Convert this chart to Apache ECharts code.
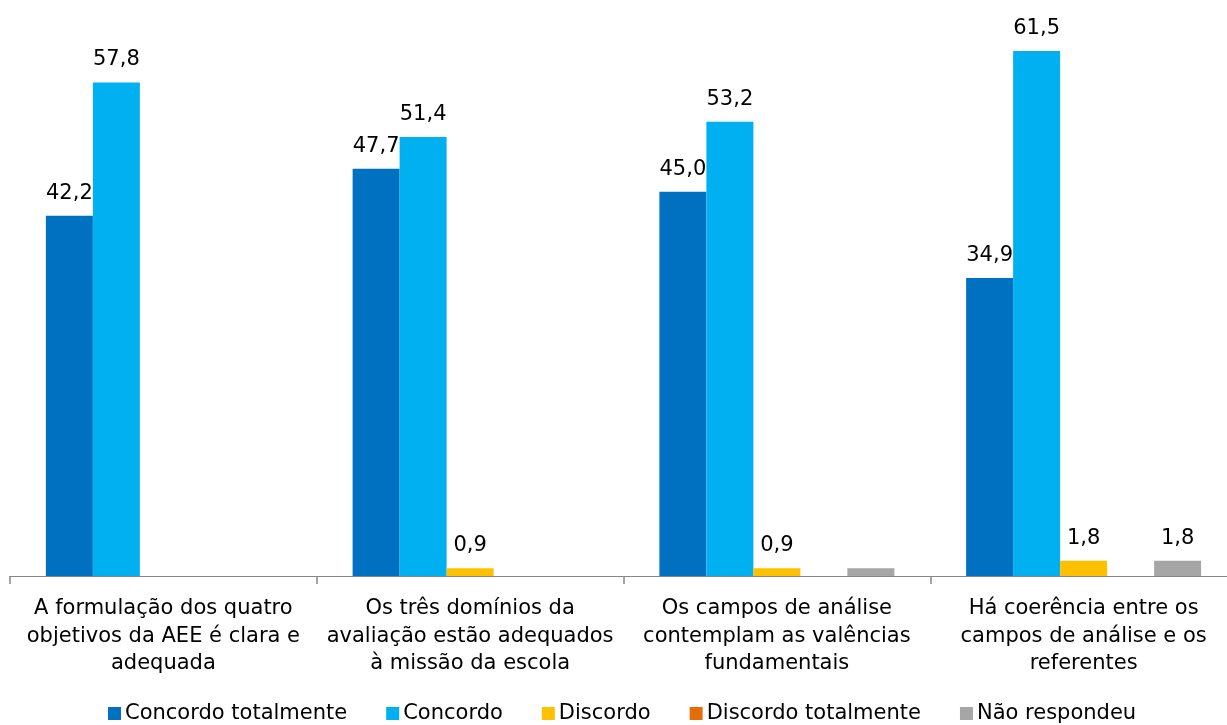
<!DOCTYPE html>
<html><head><meta charset="utf-8">
<script src="https://cdn.jsdelivr.net/npm/echarts@6/dist/echarts.min.js"></script>
<style>html,body{margin:0;padding:0;background:#fff;overflow:hidden}#c{width:1237px;height:725px}</style>
</head><body><div id="c"></div>
<script>
const categories = [
  "A formulação dos quatro\nobjetivos da AEE é clara e\nadequada",
  "Os três domínios da\navaliação estão adequados\nà missão da escola",
  "Os campos de análise\ncontemplam as valências\nfundamentais",
  "Há coerência entre os\ncampos de análise e os\nreferentes"
];
const seriesNames = ["Concordo totalmente","Concordo","Discordo","Discordo totalmente","Não respondeu"];
const concordoTotalmente = [42.2, 47.7, 45.0, 34.9];
const concordo = [57.8, 51.4, 53.2, 61.5];
const discordo = [0, 0.9, 0.9, 1.8];
const discordoTotalmente = [0, 0, 0, 0];
const naoRespondeu = [0, 0, 0.9, 1.8];
const labelShown = [
  [true, true, true, true],
  [true, true, true, true],
  [true, true, true, true],
  [true, true, true, true],
  [true, true, false, true]
];
const colors = ["#0070C0","#00B0F0","#FFC000","#E46C0A","#A6A6A6"];
const allValues = [concordoTotalmente, concordo, discordo, discordoTotalmente, naoRespondeu];
const FONT = "DejaVu Sans";

const chart = echarts.init(document.getElementById('c'));
chart.setOption({
  animation: false,
  color: colors,
  grid: {left: 10, right: 0, top: 21, bottom: 149, containLabel: false},
  xAxis: {
    type: 'category', data: categories,
    axisLine: {show: true, lineStyle: {color: '#868686', width: 1}},
    axisTick: {show: true, length: 8, lineStyle: {color: '#868686', width: 1.5}},
    axisLabel: {color: '#000', fontFamily: FONT, fontSize: 21, lineHeight: 27.5, margin: 19, interval: 0}
  },
  yAxis: {type: 'value', min: 0, max: 65, show: false, splitLine: {show: false}},
  legend: {
    top: 698, left: 103, itemWidth: 13, itemHeight: 13, itemGap: 39,
    icon: 'rect',
    textStyle: {color: '#000', fontFamily: FONT, fontSize: 21, padding: [0,0,0,-1]},
    data: seriesNames
  },
  series: allValues.map((vals, si) => ({
    name: seriesNames[si], type: 'bar', barWidth: 47, barGap: '0%',
    data: vals.map((v, ci) => ({
      value: v,
      label: {show: labelShown[si][ci] && v > 0}
    })),
    label: {
      position: 'top', distance: 12, color: '#000', fontFamily: FONT, fontSize: 21,
      formatter: p => p.value > 0 ? p.value.toFixed(1).replace('.', ',') : ''
    }
  }))
});
</script></body></html>
